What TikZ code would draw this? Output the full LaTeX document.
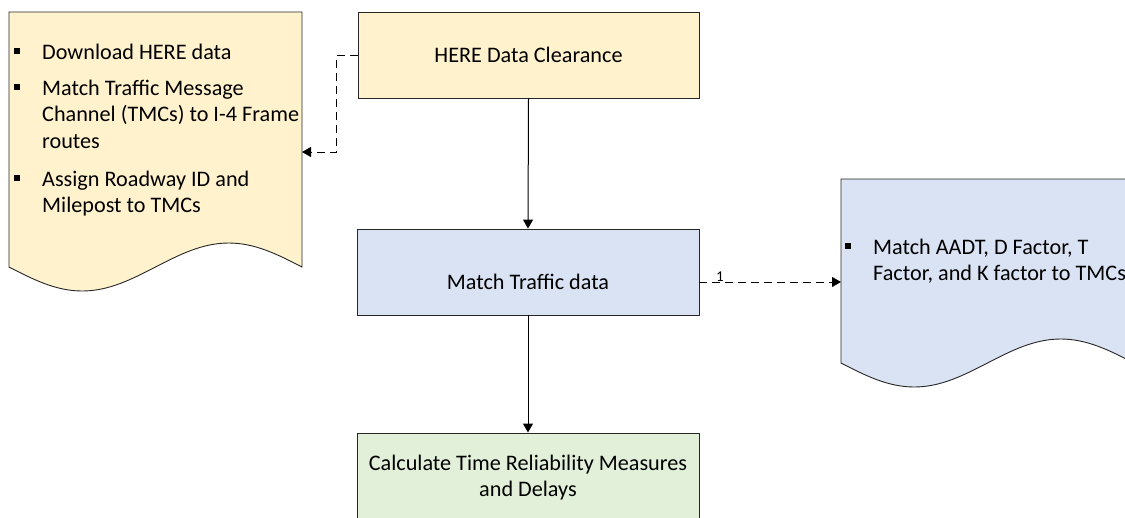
\documentclass[tikz,border=0pt]{standalone}
\usepackage{fontspec}
\setmainfont{Carlito}
\usetikzlibrary{arrows.meta}
\definecolor{hereyellow}{HTML}{FFF2CC}
\definecolor{trafblue}{HTML}{DAE3F3}
\definecolor{calcgreen}{HTML}{E2F0D9}
\newcommand\sqbullet{\makebox[0pt][r]{\rule[5.5pt]{6pt}{6pt}\hspace{22pt}}}
\newcommand\ctrline[1]{\hbox to 0pt{\hss#1\hss}}
\begin{document}
\begin{tikzpicture}[x=1pt,y=-1pt,
  box/.style={draw=black!85, line width=0.9pt},
  txt/.style={font=\fontsize{22.2}{26.8}\selectfont, inner sep=0pt},
  flow/.style={line width=1pt, -{Triangle[length=9pt,width=10pt]}},
  dashflow/.style={flow, dash pattern=on 8pt off 5pt}]
\useasboundingbox (0,0) rectangle (1125,517);
\clip (0,0) rectangle (1125,517);
% left document
\path[box, fill=hereyellow] (9,12) -- (302,12) -- (302,267) sin (228.75,243) cos (155.5,267) sin (82.25,291) cos (9,267) -- cycle;
\coordinate (ldocin) at (302,152);
\node[txt, anchor=base west] (l1) at (42,59) {\sqbullet Download HERE data};
\node[txt, anchor=base west] (l2) at (42,95) {\vtop{\hbox{\sqbullet Match Traffic Message}\hbox{Channel (TMCs) to I-4 Frame}\hbox{routes}}};
\node[txt, anchor=base west] (l3) at (42,186) {\vtop{\hbox{\sqbullet Assign Roadway ID and}\hbox{Milepost to TMCs}}};
% right document
\path[box, fill=trafblue] (841,179) -- (1134,179) -- (1134,363) sin (1060.75,339) cos (987.5,363) sin (914.25,387) cos (841,363) -- cycle;
\coordinate (rdocin) at (841,282);
\node[txt, anchor=base west] (r1) at (873,254) {\vtop{\hbox{\sqbullet Match AADT, D Factor, T}\hbox{Factor, and K factor to TMCs}}};
% process boxes
\node[box, fill=hereyellow, minimum width=341pt, minimum height=86pt, inner sep=0pt,
      font=\fontsize{22.2}{26.8}\selectfont] (here) at (528.5,55) {HERE Data Clearance};
\node[box, fill=trafblue, minimum width=342pt, minimum height=86pt, inner sep=0pt] (match) at (528,272) {};
\node[txt, anchor=base] (matchtxt) at (528,289) {Match Traffic data};
\coordinate (matchout) at (699,282);
\node[box, fill=calcgreen, minimum width=342pt, minimum height=127pt, inner sep=0pt] (calc) at (528,496.5) {};
\node[txt, anchor=base] (calctxt) at (528,470) {\vtop{\ctrline{Calculate Time Reliability Measures}\ctrline{and Delays}}};
% connectors
\draw[flow] (here.south) -- (match.north);
\draw[flow] (match.south) -- (calc.north);
\draw[dashflow] (here.west) -- ++(-21,0) |- (ldocin);
\draw[dashflow] (matchout) -- (rdocin)
  node[pos=0.148, anchor=south, inner sep=0.5pt, font=\fontsize{15}{17}\selectfont] (lbl) {1};
\end{tikzpicture}
\end{document}
